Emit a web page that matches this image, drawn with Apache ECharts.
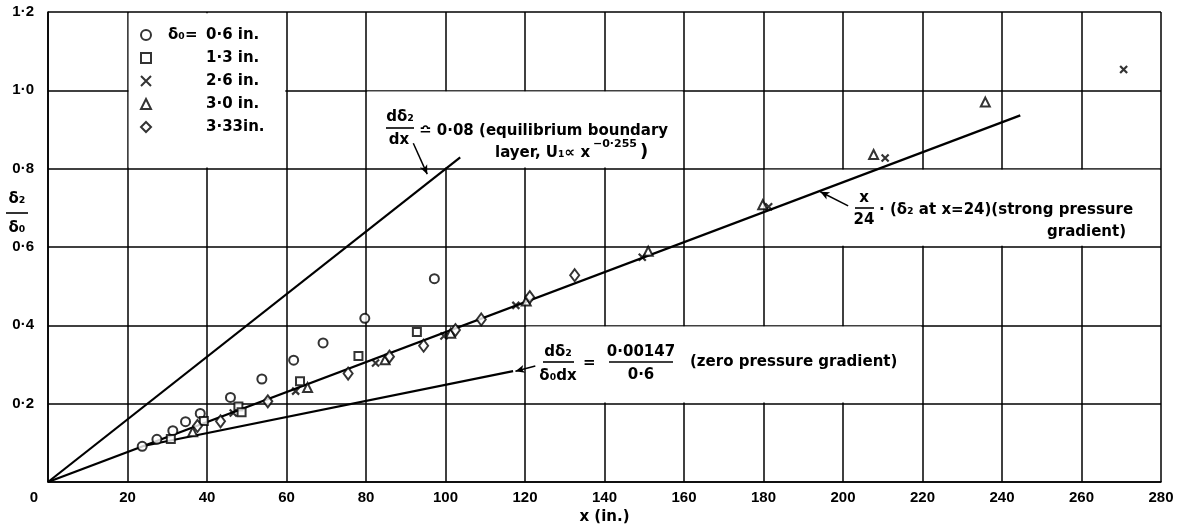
<!DOCTYPE html>
<html>
<head>
<meta charset="utf-8">
<script src="https://cdn.jsdelivr.net/npm/echarts@6/dist/echarts.min.js"></script>
<style>
html,body{margin:0;padding:0;background:#fff;}
#chart{width:1194px;height:530px;}
</style>
</head>
<body>
<div id="chart"></div>
<script>
// ---------- data ----------
const seriesNames = ['0·6 in.', '1·3 in.', '2·6 in.', '3·0 in.', '3·33in.'];
const circles06 = [[23.7,0.091],[27.4,0.109],[31.4,0.131],[34.6,0.154],[38.3,0.175],[45.9,0.216],[53.8,0.263],[61.8,0.311],[69.2,0.355],[79.7,0.418],[97.2,0.519]];
const squares13 = [[30.9,0.110],[39.2,0.156],[47.9,0.193],[48.7,0.178],[63.4,0.257],[78.1,0.322],[92.8,0.383]];
const crosses26 = [[46.6,0.176],[62.3,0.232],[82.4,0.304],[99.6,0.373],[117.7,0.451],[149.5,0.574],[181.3,0.703],[210.6,0.827],[270.6,1.053]];
const triangles30 = [[36.4,0.128],[65.3,0.241],[84.8,0.312],[101.3,0.380],[120.3,0.462],[151.0,0.589],[179.8,0.708],[207.7,0.836],[235.8,0.970]];
const diamonds333 = [[37.6,0.143],[43.4,0.155],[55.3,0.206],[75.5,0.277],[85.9,0.320],[94.5,0.348],[102.5,0.388],[109.0,0.415],[121.2,0.472],[132.5,0.528]];

// reference lines
const equilibriumLine = [[0,0],[103.7,0.829]];
const strongGradientLine = [[0,0],[244.6,0.936]];
const zeroGradientLine = [[24,0.092],[117,0.283]];

// annotation arrows (from label to line)
const arrows = [
  [[91.9,0.865],[95.4,0.786]],
  [[201.3,0.705],[194.3,0.741]],
  [[122.6,0.296],[117.6,0.283]]
];

// blank (label) panels in the grid: [x0,y0,x1,y1]
const blankPanels = [[20,0.8,60,1.2],[80,0.8,160,1.0],[180,0.6,280,0.8],[120,0.2,220,0.4]];

const xTickLabels = ['0','20','40','60','80','100','120','140','160','180','200','220','240','260','280'];
const yTickLabels = ['0','0·2','0·4','0·6','0·8','1·0','1·2'];

// ---------- chart ----------
const FONT = 'DejaVu Sans';
const chart = echarts.init(document.getElementById('chart'), null, {renderer:'canvas'});
const markerStyle = {color:'#fff', borderColor:'#000', borderWidth:2};
const crossPath = 'path://M0,0L10,10M10,0L0,10';

function scatter(name, data, symbol, size){
  return {name, type:'scatter', data, symbol, symbolSize:size, z:5,
    itemStyle: Object.assign({}, markerStyle, symbol===crossPath?{borderWidth:2.2}:{})};
}
function lineSeries(data){
  return {type:'line', data, symbol:'none', z:3, silent:true,
    lineStyle:{color:'#000', width:2.2}};
}
const insX = 0.3, insY = 0.003;

const option = {
  animation:false,
  backgroundColor:'#fff',
  grid:{left:48, right:33, top:12, bottom:42},
  legend:{
    data:seriesNames, orient:'vertical', left:135, top:21,
    itemWidth:10, itemHeight:10, itemGap:5,
    textStyle:{fontFamily:FONT, fontWeight:'bold', fontSize:15, color:'#000', lineHeight:18,
      rich:{a:{width:38, padding:[0,0,0,12], fontFamily:FONT, fontWeight:'bold', fontSize:15, color:'#000'},
            b:{fontFamily:FONT, fontWeight:'bold', fontSize:15, color:'#000'}}},
    formatter: function(n){ return (n===seriesNames[0]?'{a|δ₀=}':'{a|}') + '{b|' + n + '}'; }
  },
  xAxis:{type:'value', min:0, max:280, interval:20,
    axisLine:{show:true, lineStyle:{color:'#000', width:1.6}},
    axisTick:{show:false},
    splitLine:{show:true, lineStyle:{color:'#000', width:1.5}},
    axisLabel:{margin:8, color:'#000', fontFamily:'Liberation Sans', fontWeight:'bold', fontSize:15,
      formatter:function(v){ const s = xTickLabels[Math.round(v/20)]; return v===0 ? '{o|'+s+'}' : s; },
      rich:{o:{padding:[0,28,0,0], color:'#000', fontFamily:'Liberation Sans', fontWeight:'bold', fontSize:15}}},
    name:'x (in.)', nameLocation:'middle', nameGap:28,
    nameTextStyle:{fontFamily:FONT, fontWeight:'bold', fontSize:15, color:'#000'}
  },
  yAxis:{type:'value', min:0, max:1.2, interval:0.2,
    axisLine:{show:true, lineStyle:{color:'#000', width:1.6}},
    axisTick:{show:false},
    splitLine:{show:true, lineStyle:{color:'#000', width:1.5}},
    axisLabel:{margin:14, color:'#000', fontFamily:'Liberation Sans', fontWeight:'bold', fontSize:15,
      formatter:function(v){ const i=Math.round(v/0.2); return i===0 ? '' : yTickLabels[i]; }}
  },
  series:[
    {type:'scatter', data:[], z:1, silent:true,
      markArea:{silent:true, itemStyle:{color:'#fff'},
        data: blankPanels.map(p=>[{coord:[p[0]+insX,p[1]+insY]},{coord:[p[2]-insX,p[3]-insY]}])}},
    lineSeries(equilibriumLine),
    lineSeries(strongGradientLine),
    lineSeries(zeroGradientLine),
    {type:'line', data:[], z:3, silent:true,
      markLine:{silent:true, symbol:['none','arrow'], symbolSize:[6,9],
        lineStyle:{color:'#000', width:1.5, type:'solid'}, label:{show:false},
        data: arrows.map(a=>[{coord:a[0]},{coord:a[1]}])}},
    scatter(seriesNames[0], circles06, 'circle', 9),
    scatter(seriesNames[1], squares13, 'rect', 8),
    scatter(seriesNames[2], crosses26, crossPath, 7),
    scatter(seriesNames[3], triangles30, 'triangle', 9),
    scatter(seriesNames[4], diamonds333, 'diamond', [9,12])
  ]
};

// annotation texts
function txt(x,y,s,opt){
  return {type:'text', x, y, z:100, style:Object.assign({text:s, fill:'#000', font:'bold 15px "DejaVu Sans"',
    textAlign:'left', textVerticalAlign:'middle'}, opt||{})};
}
function bar(x1,x2,y){
  return {type:'line', z:100, shape:{x1,y1:y,x2,y2:y}, style:{stroke:'#000', lineWidth:1.6}};
}
option.graphic = [
  // y axis name
  txt(17,199,'δ₂',{textAlign:'center'}), bar(6,28,213), txt(17,228,'δ₀',{textAlign:'center'}),
  // equilibrium annotation
  txt(400,117,'dδ₂',{textAlign:'center'}), bar(386,414,128), txt(399,140,'dx',{textAlign:'center'}),
  txt(419,131,'≏ 0·08 (equilibrium boundary'),
  txt(495,153,'layer, U₁∝ x'),
  txt(593,144,'−0·255',{font:'bold 11px "DejaVu Sans"'}),
  txt(640,152,')',{font:'bold 18px "DejaVu Sans"'}),
  // strong gradient annotation
  txt(864,198,'x',{textAlign:'center'}), bar(855,874,208), txt(864,220,'24',{textAlign:'center'}),
  txt(879,210,'· (δ₂ at x=24)(strong pressure'),
  txt(1047,232,'gradient)'),
  // zero gradient annotation
  txt(558,352,'dδ₂',{textAlign:'center'}), bar(543,574,362), txt(558,376,'δ₀dx',{textAlign:'center'}),
  txt(583,363,'='),
  txt(641,352,'0·00147',{textAlign:'center'}), bar(609,673,362), txt(641,375,'0·6',{textAlign:'center'}),
  txt(690,362,'(zero pressure gradient)')
];

chart.setOption(option);
</script>
</body>
</html>
